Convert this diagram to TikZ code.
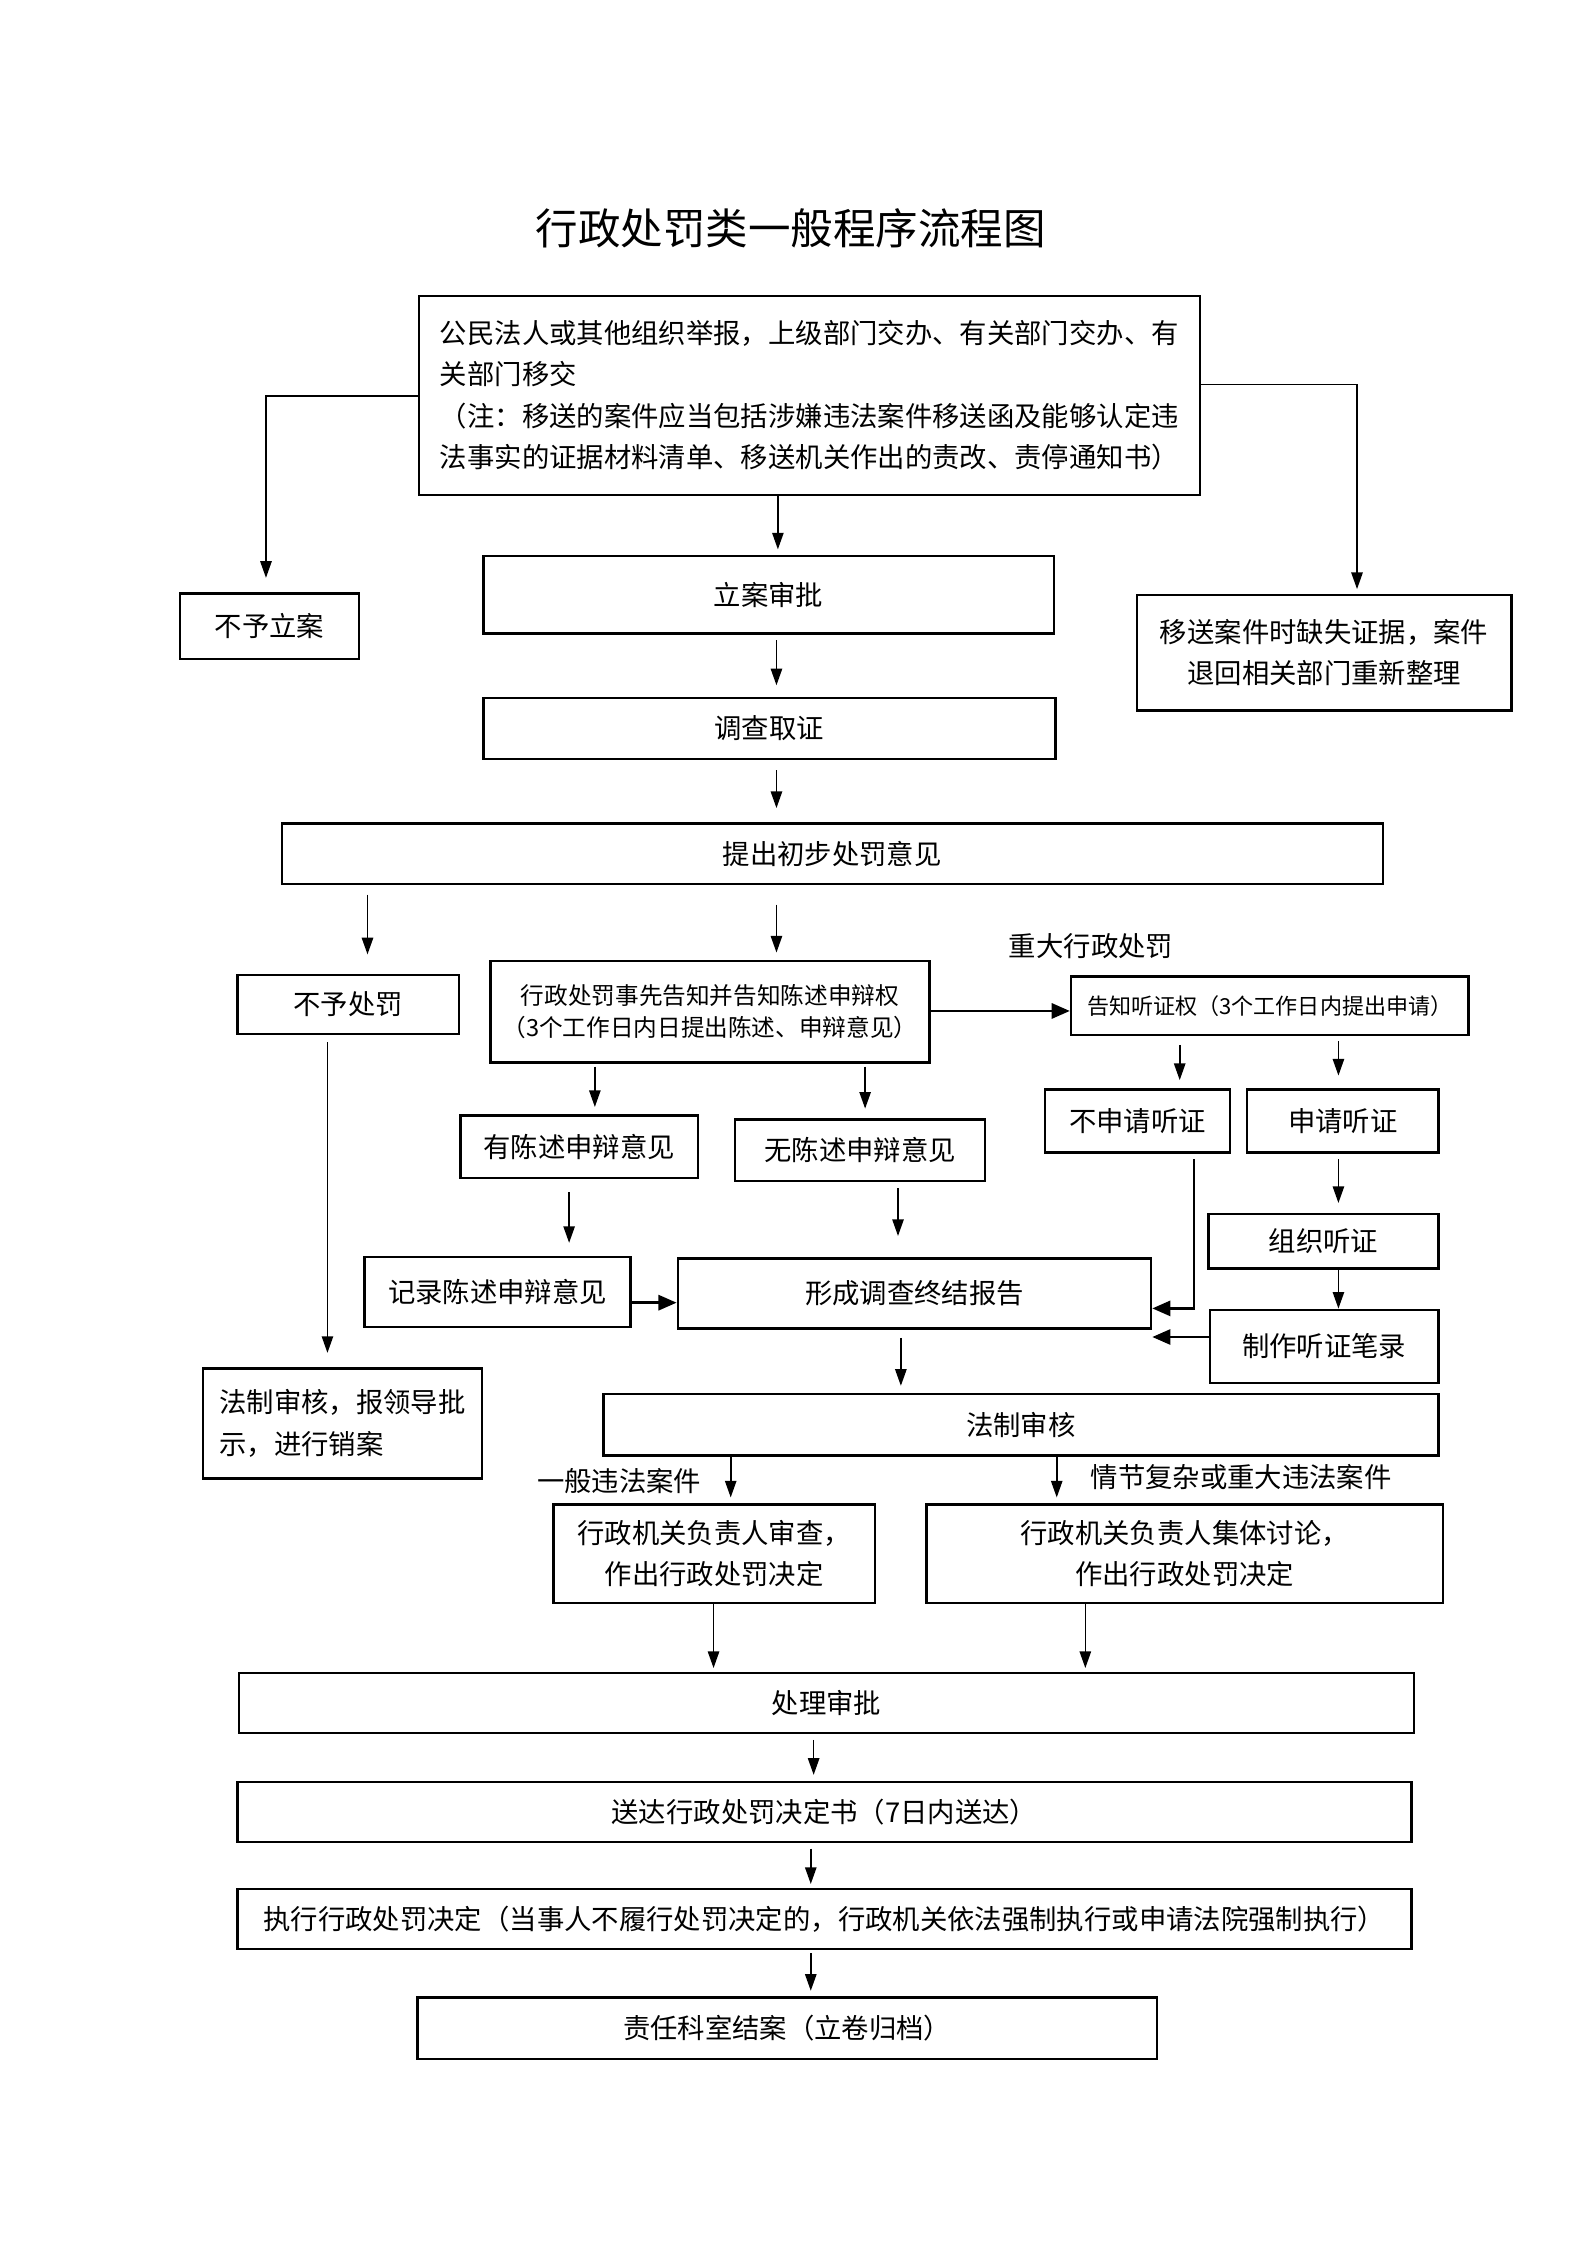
\documentclass[tikz,border=0pt]{standalone}
\usepackage{fontspec}
\setmainfont{Noto Sans CJK SC}
\usetikzlibrary{arrows.meta}
\newcommand\nfont{\fontsize{10.3pt}{15.6pt}\selectfont}
\newcommand\sfont{\fontsize{8.9pt}{12.3pt}\selectfont}
\newcommand\ssfont{\fontsize{8.3pt}{12pt}\selectfont}
\newcommand\tfont{\fontsize{16pt}{19pt}\selectfont}
\newcommand\mybox[7][]{\node[box,#1,minimum width={(#5-#3)*0.18919mm},minimum height={(#6-#4)*0.18919mm}] (#2) at ({(#3+#5)/2},{(#4+#6)/2}) {#7};}
\begin{document}
\begin{tikzpicture}[x=0.18919mm,y=-0.18919mm,
  box/.style={draw,line width=0.9pt,inner sep=0pt,font=\nfont},
  lbl/.style={font=\nfont,inner sep=0pt},
  arr/.style={-{Triangle[length=2.2mm,width=1.5mm]},line width=0.6pt},
  big/.style={-{Triangle[length=2.4mm,width=2mm]},line width=1pt}]
\useasboundingbox (0,0) rectangle (1110,1570);

\node[font=\tfont,inner sep=0pt] (title) at (553,160) {行政处罚类一般程序流程图};

\mybox[align=left]{top}{293}{207}{839}{346}{公民法人或其他组织举报，上级部门交办、有关部门交办、有\\关部门移交\\（注：移送的案件应当包括涉嫌违法案件移送函及能够认定违\\法事实的证据材料清单、移送机关作出的责改、责停通知书）}
\mybox{buli}{126}{415}{251}{461}{不予立案}
\mybox[align=center]{yisong}{795}{416}{1057}{497}{移送案件时缺失证据，案件\\退回相关部门重新整理}
\mybox{lian}{338}{389}{737}{443}{立案审批}
\mybox{diaocha}{338}{488}{738}{531}{调查取证}
\mybox{tichu}{197}{576}{967}{618}{提出初步处罚意见}
\mybox{buyucf}{166}{682}{321}{723}{不予处罚}
\mybox[align=center,font=\sfont]{gaozhi}{343}{672}{650}{743}{行政处罚事先告知并告知陈述申辩权\\（3个工作日内日提出陈述、申辩意见）}
\node[lbl] (zhongda) at (763,662) {重大行政处罚};
\mybox[font=\ssfont]{tingzheng}{749}{683}{1027}{724}{告知听证权（3个工作日内提出申请）}
\mybox[align=left]{xiaoan}{142}{957}{337}{1034}{法制审核，报领导批\\示，进行销案}
\mybox{you}{322}{780}{488}{824}{有陈述申辩意见}
\mybox{wu}{514}{783}{689}{826}{无陈述申辩意见}
\mybox{busq}{731}{762}{860}{806}{不申请听证}
\mybox{sq}{872}{762}{1006}{806}{申请听证}
\mybox{jilu}{255}{879}{441}{928}{记录陈述申辩意见}
\mybox{xingcheng}{474}{880}{805}{929}{形成调查终结报告}
\mybox{zuzhi}{845}{849}{1006}{887}{组织听证}
\mybox{zhizuo}{846}{916}{1006}{967}{制作听证笔录}
\mybox{fazhi}{422}{975}{1006}{1018}{法制审核}
\node[lbl] (yiban) at (433,1036) {一般违法案件};
\node[lbl] (qingjie) at (868,1033) {情节复杂或重大违法案件};
\mybox[align=center]{shencha}{387}{1052}{612}{1121}{行政机关负责人审查，\\作出行政处罚决定}
\mybox[align=center]{jiti}{648}{1052}{1009}{1121}{行政机关负责人集体讨论，\\作出行政处罚决定}
\mybox{chuli}{167}{1170}{989}{1212}{处理审批}
\mybox{songda}{166}{1246}{987}{1288}{送达行政处罚决定书（7日内送达）}
\mybox{zhixing}{166}{1321}{987}{1363}{执行行政处罚决定（当事人不履行处罚决定的，行政机关依法强制执行或申请法院强制执行）}
\mybox{zeren}{292}{1397}{809}{1440}{责任科室结案（立卷归档）}

% connectors
\draw[arr,shorten >=1.9mm] (top.west |- 0,277) -| (buli.north -| 186,0);
\draw[arr,shorten >=0.6mm] (top.east |- 0,269) -| (yisong.north -| 949,0);
\draw[arr,shorten >=0.75mm] (top.south -| 544,0) -- (lian.north -| 544,0);
\draw[arr,shorten <=0.75mm,shorten >=1.5mm] (lian.south -| 543,0) -- (diaocha.north -| 543,0);
\draw[arr,shorten <=1.3mm,shorten >=1.9mm] (diaocha.south -| 543,0) -- (tichu.north -| 543,0);
\draw[arr,shorten <=1.3mm,shorten >=2.6mm] (tichu.south -| 257,0) -- (buyucf.north -| 257,0);
\draw[arr,shorten <=2.6mm,shorten >=0.95mm] (tichu.south -| 543,0) -- (gaozhi.north -| 543,0);
\draw[big] (gaozhi.east |- 0,707) -- (tingzheng.west |- 0,707);
\draw[arr,shorten <=0.95mm,shorten >=1.9mm] (buyucf.south -| 229,0) -- (xiaoan.north -| 229,0);
\draw[arr,shorten <=0.4mm,shorten >=0.95mm] (gaozhi.south -| 416,0) -- (you.north -| 416,0);
\draw[arr,shorten <=0.4mm,shorten >=1.3mm] (gaozhi.south -| 605,0) -- (wu.north -| 605,0);
\draw[arr,shorten <=1.1mm,shorten >=1.1mm] (tingzheng.south -| 825,0) -- (busq.north -| 825,0);
\draw[arr,shorten <=0.6mm,shorten >=1.7mm] (tingzheng.south -| 936,0) -- (sq.north -| 936,0);
\draw[arr,shorten <=1.7mm,shorten >=1.7mm] (you.south -| 398,0) -- (jilu.north -| 398,0);
\draw[arr,shorten <=0.75mm,shorten >=2.8mm] (wu.south -| 628,0) -- (xingcheng.north -| 628,0);
\draw[big] (jilu.east |- 0,911) -- (xingcheng.west |- 0,911);
\draw[big,shorten <=0.75mm] (busq.south -| 835,0) |- (xingcheng.east |- 0,915);
\draw[arr,shorten <=0.75mm,shorten >=1.3mm] (sq.south -| 936,0) -- (zuzhi.north -| 936,0);
\draw[arr] (zuzhi.south -| 936,0) -- (zhizuo.north -| 936,0);
\draw[big] (zhizuo.west |- 0,935) -- (xingcheng.east |- 0,935);
\draw[arr,shorten <=1.1mm,shorten >=0.95mm] (xingcheng.south -| 630,0) -- (fazhi.north -| 630,0);
\draw[arr,shorten >=0.75mm] (fazhi.south -| 511,0) -- (shencha.north -| 511,0);
\draw[arr,shorten >=0.75mm] (fazhi.south -| 739,0) -- (jiti.north -| 739,0);
\draw[arr,shorten >=0.5mm] (shencha.south -| 499,0) -- (chuli.north -| 499,0);
\draw[arr,shorten >=0.5mm] (jiti.south -| 759,0) -- (chuli.north -| 759,0);
\draw[arr,shorten <=0.75mm,shorten >=0.75mm] (chuli.south -| 569,0) -- (songda.north -| 569,0);
\draw[arr,shorten <=0.75mm,shorten >=0.5mm] (songda.south -| 567,0) -- (zhixing.north -| 567,0);
\draw[arr,shorten <=0.4mm,shorten >=0.75mm] (zhixing.south -| 567,0) -- (zeren.north -| 567,0);
\end{tikzpicture}
\end{document}
